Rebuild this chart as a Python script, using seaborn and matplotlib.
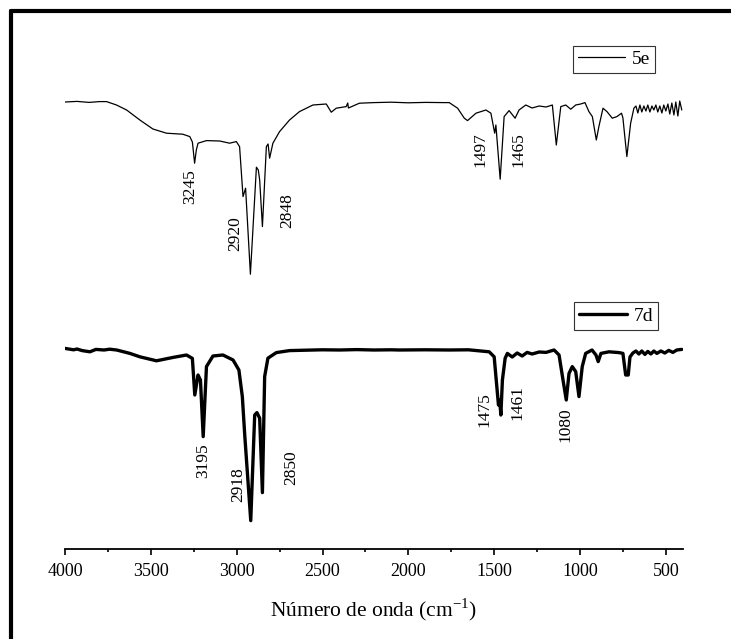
import numpy as np
import matplotlib
matplotlib.use("Agg")
import matplotlib.pyplot as plt
from matplotlib.lines import Line2D
import seaborn as sns

sns.set_style("white")
plt.rcParams['font.family'] = ['Liberation Serif', 'DejaVu Serif']
plt.rcParams['mathtext.fontset'] = 'custom'
plt.rcParams['mathtext.rm'] = 'Liberation Serif'
plt.rcParams['text.color'] = 'black'
plt.rcParams['axes.labelcolor'] = 'black'
plt.rcParams['xtick.color'] = 'black'

# --- spectrum 5e (wavenumber cm-1, transmittance a.u.) ---
wn_5e = [4000, 3930, 3860, 3800, 3758, 3700, 3641, 3564, 3488, 3409, 3314, 3273,
         3258, 3245, 3235, 3225, 3176, 3099, 3041, 3002, 2983, 2963, 2948, 2920,
         2885, 2874, 2866, 2850, 2827, 2817, 2808, 2789, 2750, 2692, 2634, 2556,
         2478, 2449, 2420, 2362, 2353, 2349, 2285, 2200, 2100, 2000, 1900, 1800,
         1762, 1713, 1674, 1655, 1606, 1548, 1519, 1497, 1490, 1465, 1442, 1413,
         1378, 1355, 1316, 1279, 1238, 1198, 1161, 1138, 1112, 1083, 1054, 1025,
         996, 971, 948, 928, 905, 890, 866, 843, 812, 785, 758, 750, 727, 705,
         686, 674, 663, 651, 640, 628, 616, 605, 593, 581, 570, 558, 547, 535,
         523, 512, 500, 488, 477, 465, 453, 442, 430, 419, 407]
t_5e = [100, 100.3, 99.8, 100.2, 100.2, 98.5, 96, 91, 86.5, 84.4, 83.9, 82.7,
        80, 69.4, 76, 79.4, 80.7, 80.5, 79.4, 80.2, 77.7, 52.7, 56.9, 13.9,
        67.4, 66, 61, 37.7, 77.7, 79, 71.9, 79.4, 85.2, 91, 95.2, 98.5,
        99, 94.9, 96.9, 97.7, 99.5, 97, 99.4, 99.7, 99.9, 99.6, 99.8, 99.7,
        99.7, 96.9, 91.9, 90.7, 94.4, 96, 94.4, 84.4, 88.5, 61.4, 92.7, 95.7,
        91.9, 96, 98.5, 97, 98, 97.5, 98.5, 78.5, 97.7, 98.5, 96.4, 98.5,
        99, 99.7, 95.2, 92.7, 81, 87.7, 96.9, 95.2, 91.9, 92.7, 94.4, 92, 72.7, 89.4,
        96.9, 98, 94.5, 98.5, 95, 98, 95.5, 98.5, 95, 98, 96, 98.5, 95, 98,
        94.5, 98.5, 95.5, 99, 94, 99.5, 93.5, 100, 93, 100.5, 96]

# --- spectrum 7d ---
wn_7d = [4000, 3950, 3930, 3900, 3855, 3820, 3773, 3740, 3699, 3622, 3564, 3467,
         3370, 3292, 3258, 3244, 3225, 3211, 3195, 3176, 3138, 3080, 3021, 2987,
         2967, 2953, 2918, 2895, 2882, 2866, 2850, 2837, 2818, 2769, 2692, 2600,
         2500, 2401, 2300, 2200, 2100, 2052, 1900, 1762, 1650, 1529, 1500, 1475,
         1468, 1461, 1452, 1436, 1423, 1395, 1366, 1337, 1308, 1279, 1238, 1198,
         1151, 1122, 1099, 1080, 1064, 1045, 1025, 1006, 987, 967, 930, 907, 894,
         878, 831, 773, 750, 734, 719, 709, 692, 674, 657, 640, 622, 605, 587,
         570, 552, 529, 506, 483, 459, 436, 407]
t_7d = [100.3, 99.6, 100, 99.2, 98.6, 99.8, 99.5, 99.9, 99.5, 97.8, 96.1, 94.1,
        95.8, 97, 95.3, 77, 87, 84.5, 56.2, 91.2, 96.5, 97, 94.5, 89.5,
        76.2, 57, 14.2, 67, 68.2, 65.4, 28.2, 86.2, 95.4, 98.2, 99.2, 99.4,
        99.6, 99.5, 99.7, 99.5, 99.6, 99.5, 99.6, 99.5, 99.6, 98.6, 96.1, 72,
        74.5, 67, 84.5, 95.4, 97.8, 96, 98, 96.5, 98.3, 97.5, 98.5, 98.3,
        99.5, 97, 84.5, 74.5, 87.8, 91.2, 88.7, 76.2, 91.2, 97.8, 99.5, 97, 93.7,
        97.8, 98.6, 98.2, 97.8, 87, 87, 96, 98, 99, 97.5, 99, 97.3, 98.8, 97.5,
        99, 97.8, 99, 98, 99.3, 98.3, 99.5, 99.8]

offset_5e = 123.5

# peak labels: text, wavenumber of label centre, vertical position
peak_text = ['3245', '2920', '2848', '1497', '1465',
             '3195', '2918', '2850', '1475', '1461', '1080']
peak_x = [3273, 3006, 2705, 1577, 1359, 3196, 2992, 2682, 1558, 1364, 1083]
peak_y = [181.2, 157.5, 169, 199.9, 199.9, 44, 32, 40.8, 69.8, 73.1, 62]

fig = plt.figure(figsize=(7.31, 6.39), dpi=100)
ax = fig.add_axes([65/731, (639-548.5)/639, 618/731, 518.5/639])

sns.lineplot(x=wn_5e, y=np.array(t_5e) + offset_5e, ax=ax, color='black',
             linewidth=0.9, estimator=None, sort=False)
sns.lineplot(x=wn_7d, y=t_7d, ax=ax, color='black',
             linewidth=2.4, estimator=None, sort=False)

for txt, x, y in zip(peak_text, peak_x, peak_y):
    ax.text(x, y, txt, rotation=90, ha='center', va='center', fontsize=12.5)

ax.set_xlim(4000, 400)
ax.set_ylim(0.25, 259.5)
ax.set_yticks([])
ax.set_xticks(np.arange(500, 4001, 500))
ax.set_xticks(np.arange(750, 4000, 500), minor=True)
ax.tick_params(axis='x', which='major', direction='out', length=4.5, width=1.2,
               pad=6, labelsize=13, bottom=True)
ax.tick_params(axis='x', which='minor', direction='out', length=2.3, width=1.2,
               bottom=True)
for s in ['left', 'right', 'top']:
    ax.spines[s].set_visible(False)
ax.spines['bottom'].set_linewidth(1.3)
ax.spines['bottom'].set_color('black')
ax.set_xlabel(r'Número de onda (cm$^{\mathrm{-1}}$)', fontsize=15.5, labelpad=12)
ax.set_ylabel('')

leg_kw = dict(loc='upper left', borderaxespad=0, fontsize=14, fancybox=False,
              edgecolor='0.2', framealpha=1, borderpad=0.25, handlelength=2.45,
              handletextpad=0.35)
h5 = Line2D([], [], color='black', linewidth=0.9)
h7 = Line2D([], [], color='black', linewidth=2.4)
leg1 = ax.legend([h5], ['5e'], bbox_to_anchor=(0.822, 0.970), **leg_kw)
leg1.get_frame().set_linewidth(0.8)
ax.add_artist(leg1)
leg2 = ax.legend([h7], ['7d'], bbox_to_anchor=(0.824, 0.475), **leg_kw)
leg2.get_frame().set_linewidth(0.8)

# page frame around the figure
fig.add_artist(Line2D([11/731, 11/731], [0, 1 - 11/639], color='black',
                      linewidth=3, transform=fig.transFigure))
fig.add_artist(Line2D([11/731, 1], [1 - 11/639, 1 - 11/639], color='black',
                      linewidth=3, transform=fig.transFigure))

fig.savefig('out.png', dpi=100)
